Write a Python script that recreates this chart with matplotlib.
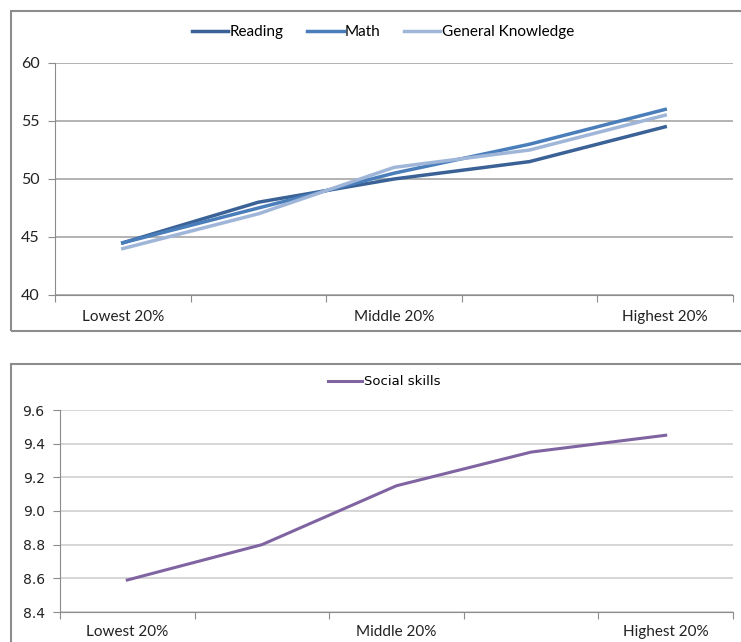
import matplotlib.pyplot as plt
from matplotlib.patches import Rectangle

categories = ["Lowest 20%", "", "Middle 20%", "", "Highest 20%"]
reading = [44.5, 48.0, 50.0, 51.5, 54.5]
math_scores = [44.5, 47.5, 50.5, 53.0, 56.0]
general_knowledge = [44.0, 47.0, 51.0, 52.5, 55.5]
social_skills = [8.59, 8.80, 9.15, 9.35, 9.45]

top_ticks = [40, 45, 50, 55, 60]
bottom_ticks = [8.4, 8.6, 8.8, 9.0, 9.2, 9.4, 9.6]

W, H = 741, 642
fig = plt.figure(figsize=(W / 100, H / 100), dpi=100)
fig.patch.set_facecolor("white")

# panel borders (figure coords)
for x0, y0, y1 in [(11, 11, 331), (11, 364, 660)]:
    fig.patches.append(Rectangle((x0 / W, 1 - y1 / H), (760 - x0) / W, (y1 - y0) / H,
                                 transform=fig.transFigure, fill=False,
                                 edgecolor="#8c8c8c", linewidth=1.5, clip_on=False))


def style_axis(ax, grid_color, ticks, labels, tick_font, tick_size, ypad, xpad):
    for side in ["top", "right"]:
        ax.spines[side].set_visible(False)
    ax.spines["left"].set_color("#8c8c8c")
    ax.spines["bottom"].set_color("#8c8c8c")
    ax.set_xlim(-0.5, len(categories) - 0.5)
    ax.set_xticks([i + 0.5 for i in range(-1, len(categories))])
    ax.set_xticklabels([])
    ax.set_xticks(range(len(categories)), minor=True)
    ax.set_xticklabels(categories, minor=True, fontsize=11, family="Lato", color="#222222")
    ax.tick_params(axis="x", which="major", length=5, color="#8c8c8c")
    ax.tick_params(axis="x", which="minor", length=0, pad=xpad)
    ax.set_yticks(ticks)
    ax.set_yticklabels(labels, family=tick_font, fontsize=tick_size, color="#222222")
    ax.tick_params(axis="y", length=5, color="#8c8c8c", pad=ypad)
    ax.yaxis.grid(True, color=grid_color, linewidth=1.2)
    ax.set_axisbelow(True)


x = list(range(len(categories)))

ax1 = fig.add_axes([55 / W, 1 - 295 / H, (733 - 55) / W, (295 - 63) / H])
ax1.plot(x, reading, color="#3b6296", linewidth=2.5, label="Reading")
ax1.plot(x, math_scores, color="#4a7ebb", linewidth=2.5, label="Math")
ax1.plot(x, general_knowledge, color="#a0b6d9", linewidth=2.5, label="General Knowledge")
ax1.set_ylim(40, 60)
style_axis(ax1, "#a6a6a6", top_ticks, [str(v) for v in top_ticks], "Lato", 11.5, 6, 10.5)
ax1.legend(loc="center", bbox_to_anchor=(383 / W, 1 - 32 / H), bbox_transform=fig.transFigure,
           ncol=3, frameon=False, handlelength=2.4, handletextpad=0.1, columnspacing=1.5,
           prop={"family": "Lato", "size": 11})

ax2 = fig.add_axes([60 / W, 1 - 612 / H, (733 - 60) / W, (612 - 410) / H])
ax2.plot(x, social_skills, color="#8064a2", linewidth=2.2, label="Social skills")
ax2.set_ylim(8.4, 9.6)
style_axis(ax2, "#d0d0d0", bottom_ticks, [f"{v:.1f}" for v in bottom_ticks], "DejaVu Sans", 10, 6, 9.5)
ax2.legend(loc="center", bbox_to_anchor=(384 / W, 1 - 382 / H), bbox_transform=fig.transFigure,
           frameon=False, handlelength=2.6, handletextpad=0.1,
           prop={"family": "DejaVu Sans", "size": 9.5})

fig.savefig("out.png", dpi=100)
